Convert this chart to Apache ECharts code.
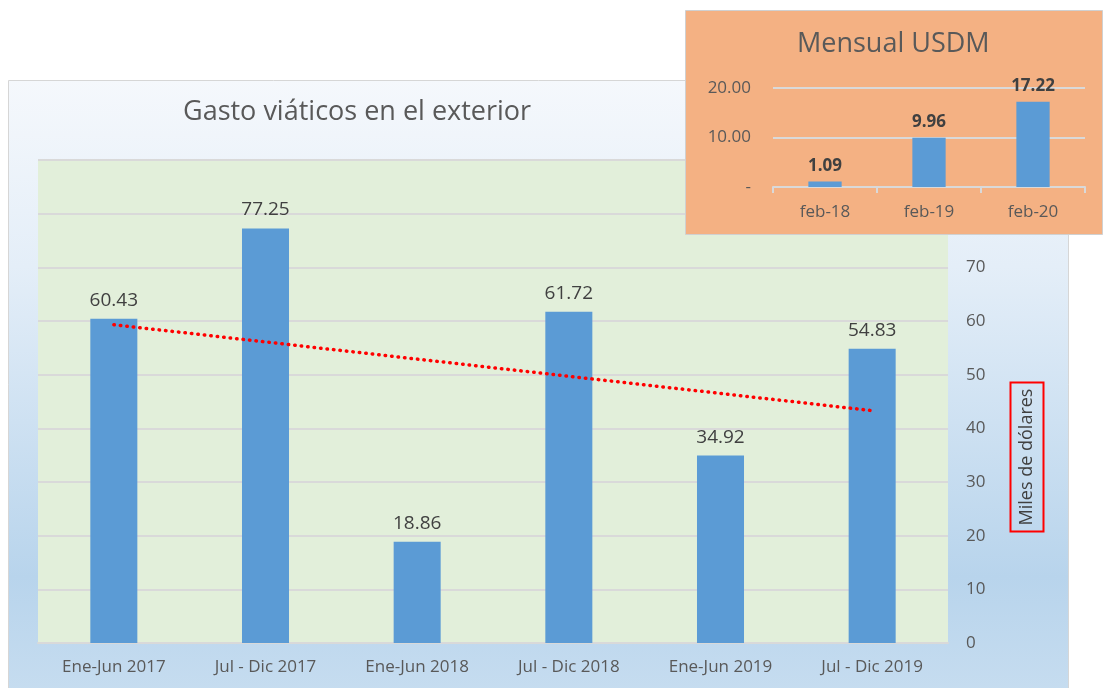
<!DOCTYPE html>
<html>
<head>
<meta charset="utf-8">
<script src="https://cdn.jsdelivr.net/npm/echarts@6/dist/echarts.min.js"></script>
<style>
    html, body { margin: 0; padding: 0; background: #ffffff; }
    #chart { width: 1104px; height: 688px; }
</style>
</head>
<body>
<div id="chart"></div>
<script>
// main chart data
const periods = ["Ene-Jun 2017", "Jul - Dic 2017", "Ene-Jun 2018", "Jul - Dic 2018", "Ene-Jun 2019", "Jul - Dic 2019"];
const gasto = [60.43, 77.25, 18.86, 61.72, 34.92, 54.83];
// trend line: first and last category only
const trend = [59.3, null, null, null, null, 43.3];

// inset data
const months = ["feb-18", "feb-19", "feb-20"];
const mensual = [1.09, 9.96, 17.22];

const FONT = "Open Sans";
const grey = "#595959";

const chart = echarts.init(document.getElementById("chart"), null, { renderer: "canvas" });

const option = {
    animation: false,
    textStyle: { fontFamily: FONT },
    graphic: [
        {
            type: "rect",
            z: -10,
            shape: { x: 8.5, y: 80.5, width: 1060, height: 620 },
            style: {
                fill: {
                    type: "linear", x: 0, y: 0, x2: 0, y2: 1,
                    colorStops: [
                        { offset: 0, color: "#f5f8fc" },
                        { offset: 0.3, color: "#e4eef8" },
                        { offset: 0.8, color: "#b8d4ec" },
                        { offset: 1, color: "#c7ddf0" },
                    ],
                },
                stroke: "#d6d6d6",
                lineWidth: 1,
            },
        },
        {
            type: "text",
            z: -5,
            left: 183,
            top: 99,
            style: { text: "Gasto viáticos en el exterior", font: "27px 'Open Sans'", fill: grey },
        },
        {
            // axis title of the main chart, boxed in red
            type: "text",
            z: 4,
            x: 1027,
            y: 457,
            rotation: Math.PI / 2,
            style: {
                text: "Miles de dólares",
                font: "18px 'Open Sans'",
                fill: "#404040",
                align: "center",
                verticalAlign: "middle",
                borderColor: "#ff0000",
                borderWidth: 2,
                padding: [9, 6, 6, 6],
            },
        },
        {
            type: "rect",
            z: 5,
            shape: { x: 685.5, y: 10.5, width: 417, height: 224 },
            style: { fill: "#f4b183", stroke: "#d0d0d0", lineWidth: 1 },
        },
        {
            type: "text",
            z: 6,
            left: 797,
            top: 31,
            style: { text: "Mensual USDM", font: "27px 'Open Sans'", fill: grey },
        },
    ],
    grid: [
        { left: 38, right: 156, top: 160, bottom: 45, show: true, backgroundColor: "#e2efda", borderWidth: 0 },
        { left: 773, right: 19, top: 88, bottom: 501 },
    ],
    xAxis: [
        {
            gridIndex: 0,
            type: "category",
            data: periods,
            axisLine: { lineStyle: { color: "#d9d9d9", width: 2 } },
            axisTick: { show: false },
            axisLabel: { color: grey, fontSize: 17, margin: 16 },
        },
        {
            gridIndex: 1,
            type: "category",
            data: months,
            z: 10,
            axisLine: { lineStyle: { color: "#d9d9d9", width: 2 } },
            axisTick: { show: true, length: 6, lineStyle: { color: "#d9d9d9", width: 2 } },
            axisLabel: { color: grey, fontSize: 17, margin: 17 },
        },
    ],
    yAxis: [
        {
            gridIndex: 0,
            type: "value",
            position: "right",
            min: 0,
            max: 90,
            interval: 10,
            axisLine: { show: false },
            axisTick: { show: false },
            axisLabel: { color: grey, fontSize: 17, margin: 18 },
            splitLine: { lineStyle: { color: "#d9d9d9", width: 2 } },
        },
        {
            gridIndex: 1,
            type: "value",
            min: 0,
            max: 20,
            interval: 10,
            z: 10,
            axisLine: { show: false },
            axisTick: { show: false },
            axisLabel: {
                color: grey,
                fontSize: 17,
                margin: 22,
                formatter: (v) => (v === 0 ? "-" : v.toFixed(2)),
            },
            splitLine: { lineStyle: { color: "#d9d9d9", width: 2 } },
        },
    ],
    series: [
        {
            type: "bar",
            xAxisIndex: 0,
            yAxisIndex: 0,
            data: gasto,
            barWidth: "31%",
            itemStyle: { color: "#5b9bd5" },
            label: {
                show: true,
                position: "top",
                distance: 9,
                color: "#404040",
                fontSize: 19,
                formatter: (p) => p.value.toFixed(2),
            },
        },
        {
            type: "line",
            xAxisIndex: 0,
            yAxisIndex: 0,
            data: trend,
            connectNulls: true,
            symbol: "none",
            z: 3,
            lineStyle: { color: "#ff0000", width: 3.5, type: [0.5, 6], cap: "round" },
        },
        {
            type: "bar",
            xAxisIndex: 1,
            yAxisIndex: 1,
            data: mensual,
            z: 10,
            barWidth: "32%",
            itemStyle: { color: "#5b9bd5" },
            label: {
                show: true,
                position: "top",
                distance: 7,
                color: "#404040",
                fontSize: 17,
                fontWeight: "bold",
                formatter: (p) => p.value.toFixed(2),
            },
        },
    ],
};

chart.setOption(option);
</script>
</body>
</html>
